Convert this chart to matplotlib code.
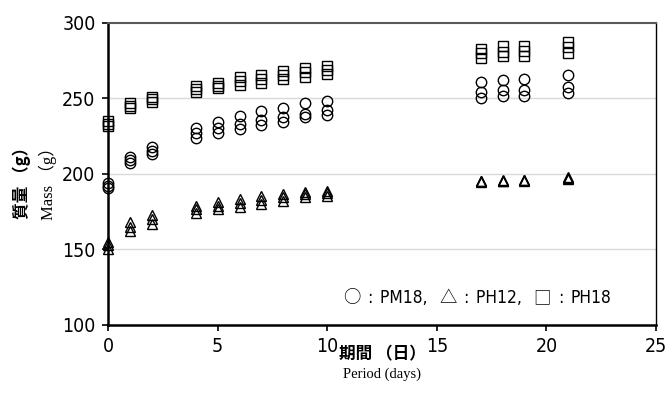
import matplotlib.pyplot as plt
import numpy as np
from matplotlib.offsetbox import TextArea, HPacker, AnchoredOffsetbox

plt.rcParams['font.family'] = ['Noto Sans CJK JP', 'DejaVu Sans']

# sampling days
days = [0, 1, 2, 4, 5, 6, 7, 8, 9, 10, 17, 18, 19, 21]

# three replicates per day, mass in g
pm18 = [
    [194, 192, 190.5], [211, 209.5, 207], [218, 215.5, 213], [230.5, 227, 224],
    [234.5, 230.5, 227], [238.5, 233, 230], [241.5, 236, 232.5], [244, 238, 234.5],
    [247, 240, 237.5], [248.5, 242.5, 239], [261, 254.5, 250.5], [262.5, 255.5, 251.5],
    [263, 255.5, 251.5], [265.5, 257.5, 253.5],
]
ph12 = [
    [155, 153, 150.5], [168, 165, 162.5], [173, 170, 167], [179, 177, 174],
    [181.5, 179, 176.5], [183.5, 181, 178], [185.5, 183, 180], [186.5, 185, 182],
    [188, 186.5, 184.5], [189, 187.5, 185.5], [195, 195.5, 195.5], [195.5, 195.5, 196],
    [195.5, 196, 196], [197, 197.5, 198],
]
ph18 = [
    [235, 233, 231.5], [247, 245, 243.5], [251, 249.5, 248], [258, 256, 254.5],
    [260, 258.5, 257], [264, 261.5, 259], [265.5, 263, 260.5], [268, 265.5, 263],
    [270, 267.5, 264.5], [271.5, 269, 266], [283, 280, 277], [285, 281, 278],
    [285, 281.5, 278], [287.5, 284, 280],
]

xticks = [0, 5, 10, 15, 20, 25]
yticks = [100, 150, 200, 250, 300]
legend_items = [('○', 'PM18, '), ('△', 'PH12, '), ('□', 'PH18')]

cond = ['DejaVu Sans', 'Noto Sans CJK JP']
serif = ['Liberation Serif', 'Noto Sans CJK JP']

fig = plt.figure(figsize=(6.67, 4.07), dpi=100)
ax = fig.add_axes([0.162, 0.2015, 0.8215, 0.742])

# grid
for v in yticks[1:-1]:
    ax.axhline(v, color='#d9d9d9', linewidth=1.0, zorder=0)

# points
for data, m in [(pm18, 'o'), (ph12, '^'), (ph18, 's')]:
    arr = np.array(data)
    for k in range(arr.shape[1]):
        ax.plot(days, arr[:, k], linestyle='none', marker=m, markersize=7.5,
                markerfacecolor='none', markeredgecolor='black',
                markeredgewidth=1.0, zorder=3, clip_on=False)

ax.set_xlim(0, 25)
ax.set_ylim(100, 300)
ax.set_xticks(xticks)
ax.set_yticks(yticks)
ax.tick_params(direction='out', length=4, width=1.2, pad=5)
for lab in ax.get_xticklabels() + ax.get_yticklabels():
    lab.set_family(cond)
    lab.set_stretch('condensed')
    lab.set_fontsize(14)

# spines
for s in ['left', 'bottom']:
    ax.spines[s].set_linewidth(1.8)
    ax.spines[s].set_color('black')
ax.spines['top'].set_color('#595959')
ax.spines['top'].set_linewidth(1.5)
ax.spines['right'].set_color('black')
ax.spines['right'].set_linewidth(1.0)

# legend line: symbol glyphs from the CJK font, names in condensed sans
parts = []
for sym, name in legend_items:
    parts.append(TextArea(sym, textprops=dict(fontsize=12.5, family='Noto Sans CJK JP')))
    parts.append(TextArea(':', textprops=dict(fontsize=12.5, family=cond, stretch='condensed')))
    parts.append(TextArea(name, textprops=dict(fontsize=12.5, family=cond, stretch='condensed')))
row = HPacker(children=parts, align='baseline', pad=0, sep=5)
box = AnchoredOffsetbox(loc='center', child=row, frameon=False, pad=0,
                        bbox_to_anchor=(477 / 667, 1 - 298 / 407),
                        bbox_transform=fig.transFigure)
ax.add_artist(box)

# axis labels
fig.text(382 / 667, 1 - 354 / 407, '期間 （日）', ha='center', va='center',
         fontsize=12, fontweight='bold')
fig.text(382 / 667, 1 - 374 / 407, 'Period (days)', ha='center', va='center',
         fontsize=10.5, family=serif)
fig.text(22 / 667, 1 - 179 / 407, '質量 （g）', ha='center', va='center',
         rotation=90, fontsize=12, fontweight='bold')
fig.text(48 / 667, 1 - 180 / 407, 'Mass （g）', ha='center', va='center',
         rotation=90, fontsize=12, family=serif)

plt.savefig('out.png', dpi=100)
